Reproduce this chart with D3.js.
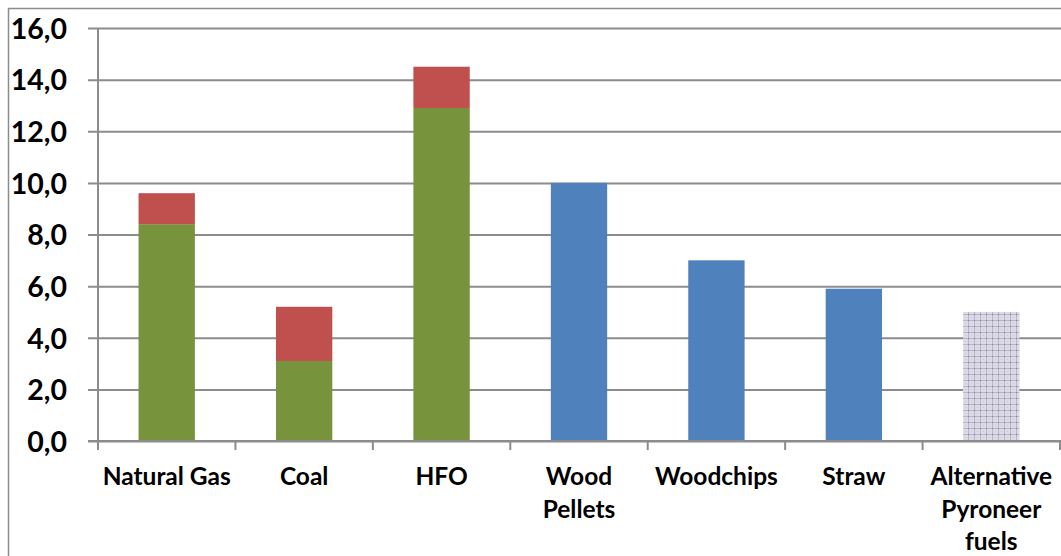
<!DOCTYPE html>
<html>
<head>
<meta charset="utf-8">
<script src="https://cdn.jsdelivr.net/npm/d3@7"></script>
<style>
  html, body { margin: 0; padding: 0; background: #fff; }
  svg { display: block; }
  text { font-family: Lato, "Open Sans", sans-serif; font-weight: bold; fill: #000; }
</style>
</head>
<body>
<svg id="chart" width="1061" height="556"></svg>
<script>
// Fuel categories (x-axis labels, line breaks marked with "\n")
const categories = ["Natural Gas", "Coal", "HFO", "Wood\nPellets", "Woodchips", "Straw", "Alternative\nPyroneer\nfuels"];
// Fossil fuels: base part (green) and extra part (red) stacked on top
const baseValues  = [8.4, 3.1, 12.9, null, null, null, null];
const extraValues = [1.2, 2.1, 1.6, null, null, null, null];
// Biomass fuels (blue)
const bioValues   = [null, null, null, 10.0, 7.0, 5.9, null];
// Alternative fuel (patterned)
const altValues   = [null, null, null, null, null, null, 5.0];
// Y-axis ticks
const yTicks = [0, 2, 4, 6, 8, 10, 12, 14, 16];

const svg = d3.select("#chart");

// Checkered fill for the alternative fuel bar
const defs = svg.append("defs");
const pat = defs.append("pattern")
  .attr("id", "altPattern")
  .attr("patternUnits", "userSpaceOnUse")
  .attr("width", 6).attr("height", 6);
pat.append("rect").attr("width", 6).attr("height", 6).attr("fill", "#dcdae6");
pat.append("rect").attr("x", 0).attr("y", 2).attr("width", 6).attr("height", 1).attr("fill", "#b7b4c8");
pat.append("rect").attr("x", 2).attr("y", 0).attr("width", 1).attr("height", 6).attr("fill", "#b7b4c8");
pat.append("rect").attr("x", 2).attr("y", 2).attr("width", 1).attr("height", 1).attr("fill", "#85819c");
pat.append("rect").attr("x", 5).attr("y", 5).attr("width", 1).attr("height", 1).attr("fill", "#c8c6d6");

// Outer chart frame
svg.append("rect")
  .attr("x", 8.5).attr("y", 8.5)
  .attr("width", 1100).attr("height", 600)
  .attr("fill", "none")
  .attr("stroke", "#8c8c8c")
  .attr("stroke-width", 1.5);

const plot = { left: 98, right: 1060, top: 28, bottom: 441 };

const y = d3.scaleLinear().domain([0, 16]).range([plot.bottom, plot.top]);
const x = d3.scaleBand().domain(categories).range([plot.left, plot.right]).padding(0);
const barW = x.bandwidth() * 0.41;
const barX = c => x(c) + (x.bandwidth() - barW) / 2;

// Horizontal gridlines with tick stubs left of the axis
const fmt = v => d3.format(".1f")(v).replace(".", ",");
const yAxis = d3.axisLeft(y).tickValues(yTicks).tickFormat(fmt)
  .tickSize(-(plot.right - plot.left + 10)).tickPadding(31);
const gy = svg.append("g")
  .attr("transform", `translate(${plot.left},0)`)
  .call(yAxis);
gy.select(".domain").remove();
gy.selectAll(".tick line")
  .attr("x1", -10)
  .attr("x2", plot.right - plot.left + 10)
  .attr("stroke", "#8c8c8c")
  .attr("stroke-width", 2);
gy.selectAll(".tick text")
  .style("font-size", "28.5px")
  .attr("dy", "0.36em")
  .attr("fill", "#000");

// Vertical axis line
svg.append("line")
  .attr("x1", plot.left).attr("x2", plot.left)
  .attr("y1", plot.top).attr("y2", plot.bottom + 9)
  .attr("stroke", "#8c8c8c").attr("stroke-width", 2);

// Category tick marks under the baseline
svg.append("g").selectAll("line")
  .data(categories)
  .join("line")
  .attr("x1", d => x(d) + x.bandwidth())
  .attr("x2", d => x(d) + x.bandwidth())
  .attr("y1", plot.bottom).attr("y2", plot.bottom + 9)
  .attr("stroke", "#8c8c8c").attr("stroke-width", 2);

const bars = svg.append("g");

// Green base segments
bars.selectAll(".base")
  .data(categories.map((c, i) => ({ c, v: baseValues[i] })).filter(d => d.v != null))
  .join("rect")
  .attr("x", d => barX(d.c)).attr("width", barW)
  .attr("y", d => y(d.v)).attr("height", d => y(0) - y(d.v))
  .attr("fill", "#77933c");

// Red segments on top
bars.selectAll(".extra")
  .data(categories.map((c, i) => ({ c, b: baseValues[i], v: extraValues[i] })).filter(d => d.v != null))
  .join("rect")
  .attr("x", d => barX(d.c)).attr("width", barW)
  .attr("y", d => y(d.b + d.v)).attr("height", d => y(d.b) - y(d.b + d.v))
  .attr("fill", "#c0504d");

// Blue biomass bars
bars.selectAll(".bio")
  .data(categories.map((c, i) => ({ c, v: bioValues[i] })).filter(d => d.v != null))
  .join("rect")
  .attr("x", d => barX(d.c)).attr("width", barW)
  .attr("y", d => y(d.v)).attr("height", d => y(0) - y(d.v))
  .attr("fill", "#4f81bd");

// Patterned alternative fuel bar
bars.selectAll(".alt")
  .data(categories.map((c, i) => ({ c, v: altValues[i] })).filter(d => d.v != null))
  .join("rect")
  .attr("x", d => barX(d.c)).attr("width", barW)
  .attr("y", d => y(d.v)).attr("height", d => y(0) - y(d.v))
  .attr("fill", "url(#altPattern)");

// Baseline redrawn over the bars
svg.append("line")
  .attr("x1", plot.left - 10).attr("x2", plot.right + 10)
  .attr("y1", plot.bottom).attr("y2", plot.bottom)
  .attr("stroke", "#8c8c8c").attr("stroke-width", 2);

// Multi-line category labels
const labels = svg.append("g").selectAll("text")
  .data(categories)
  .join("text")
  .attr("text-anchor", "middle")
  .style("font-size", "24.5px")
  .attr("transform", d => `translate(${x(d) + x.bandwidth() / 2},485)`);
labels.selectAll("tspan")
  .data(d => d.split("\n"))
  .join("tspan")
  .attr("x", 0)
  .attr("y", (d, i) => i * 32.5)
  .text(d => d);
</script>
</body>
</html>
